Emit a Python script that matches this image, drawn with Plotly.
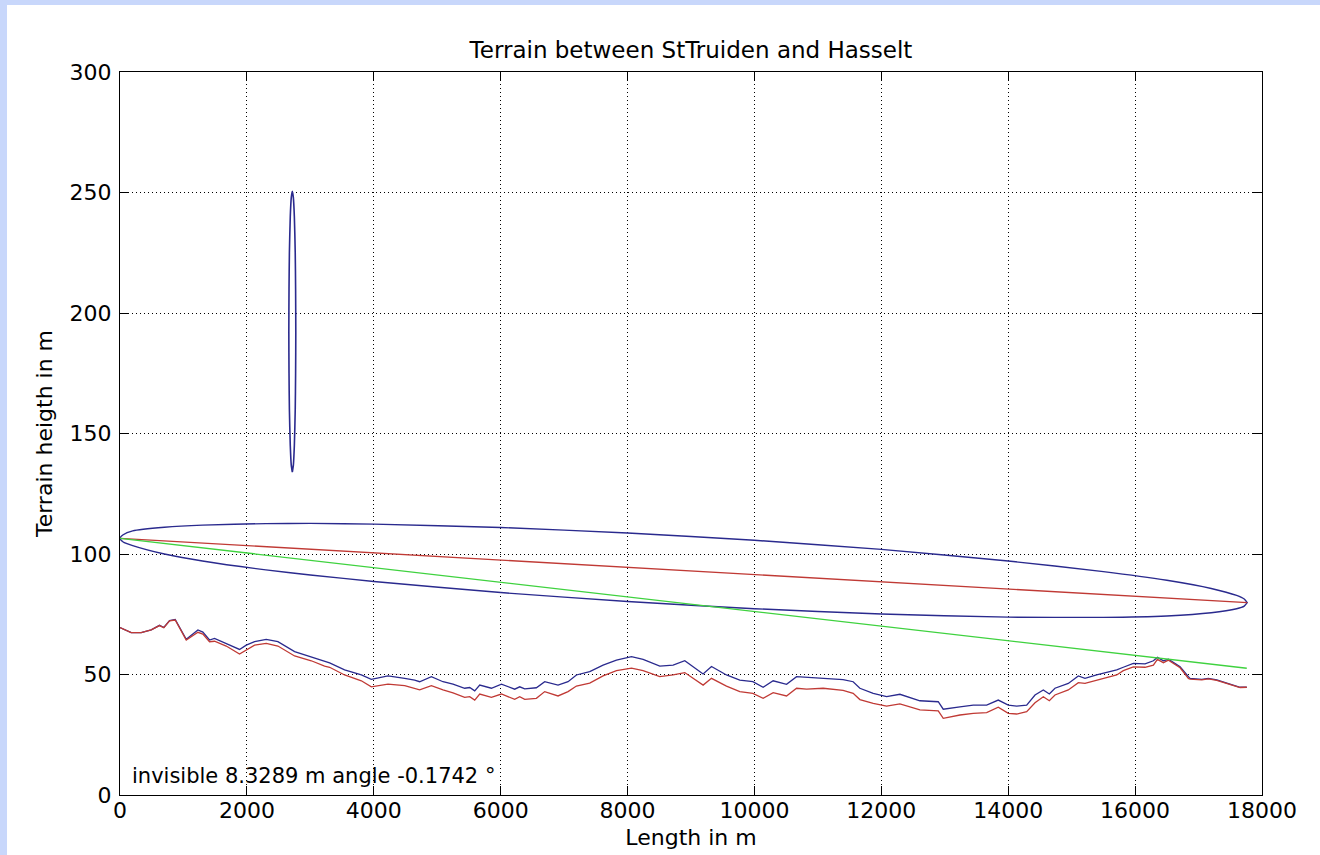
import plotly.graph_objects as go

# ---- data ----
terrain_x = [0, 176, 334, 492, 623, 691, 781, 870, 1044, 1228, 1306, 1411, 1490, 1674, 1884, 1990,
             2121, 2305, 2489, 2752, 3015, 3225, 3304, 3540, 3804, 3961, 4119, 4224, 4487, 4644,
             4723, 4908, 5091, 5249, 5433, 5512, 5591, 5670, 5854, 6012, 6221, 6300, 6379, 6563,
             6694, 6904, 7062, 7194, 7404, 7614, 7825, 8062, 8245, 8508, 8718, 8902, 9191, 9323,
             9559, 9769, 9975, 10137, 10295, 10506, 10664, 10822, 11083, 11397, 11556, 11662, 11872,
             12083, 12293, 12608, 12897, 12976, 13239, 13449, 13660, 13843, 14001, 14133, 14291,
             14422, 14553, 14648, 14737, 14947, 15105, 15210, 15394, 15604, 15710, 15814, 15972,
             16157, 16288, 16351, 16446, 16525, 16709, 16840, 16866, 17050, 17155, 17287, 17497,
             17655, 17760]
terrain_red = [69.5, 67.4, 67.4, 68.5, 70.3, 69.4, 72.3, 72.6, 64.3, 67.5, 66.8, 63.6, 63.8, 61.8, 58.5, 60.2,
               62.2, 62.9, 61.8, 57.7, 55.7, 53.5, 53.0, 49.8, 47.4, 44.9, 45.6, 46.0, 45.4, 44.0,
               43.6, 45.4, 43.6, 42.4, 40.5, 40.8, 39.4, 41.9, 40.5, 41.9, 39.7, 40.8, 39.7, 40.1,
               42.9, 41.1, 42.9, 45.2, 46.4, 49.4, 51.6, 52.6, 51.6, 49.1, 49.8, 50.8, 45.6, 48.4,
               45.2, 42.9, 42.2, 40.1, 42.5, 41.1, 44.3, 43.9, 44.3, 43.4, 42.2, 39.6, 38.0,
               36.9, 37.8, 35.3, 34.9, 31.8, 33.2, 33.9, 34.2, 36.4, 33.9, 33.6, 34.6,
               38.3, 40.8, 39.1, 41.5, 43.6, 46.6, 46.3, 47.7, 49.1, 49.8, 51.6, 53.2,
               53.0, 53.9, 56.3, 54.9, 55.9, 52.8, 48.4, 48.1, 47.8, 48.2, 47.6, 45.9,
               44.6, 44.7]
terrain_blue = [69.5, 67.4, 67.4, 68.5, 70.4, 69.5, 72.4, 72.8, 64.6, 68.5, 67.6, 64.3, 65.0, 62.9, 60.4, 62.2,
                63.6, 64.6, 63.6, 59.5, 57.4, 55.7, 54.8, 51.9, 49.8, 48.0, 48.8, 49.4, 48.4, 47.7,
                47.0, 49.1, 47.0, 46.0, 44.3, 44.6, 43.2, 45.6, 44.3, 46.0, 43.9, 44.9, 44.0, 44.5,
                47.0, 45.6, 47.0, 49.8, 51.2, 53.9, 56.0, 57.4, 56.3, 53.5, 53.9, 55.7, 50.2, 53.3,
                49.8, 47.7, 47.0, 44.7, 47.4, 45.9, 49.1, 48.8, 48.6, 47.9, 47.0, 44.3, 42.2,
                40.8, 41.8, 39.1, 38.7, 35.6, 36.6, 37.3, 37.3, 39.4, 37.3, 36.9, 37.3,
                41.5, 43.6, 41.9, 44.3, 46.3, 49.4, 48.4, 49.8, 51.2, 51.9, 53.0, 54.6,
                54.4, 55.7, 57.1, 55.7, 56.3, 53.2, 49.1, 48.4, 48.0, 48.4, 47.8, 46.0,
                44.7, 44.7]

# line of sight (red) and tilted line (green)
los_x = [0, 17767]
los_y = [106.5, 79.8]
green_x = [0, 17760]
green_y = [106.5, 52.6]

# large ellipse (Fresnel zone) read along its upper and lower edges
ell_x = [0, 50, 200, 700, 1300, 2300, 3000, 4000, 6000, 8000, 10000, 12000, 14000, 15500,
         16500, 17200, 17600, 17720, 17767]
ell_upper = [106.5, 108.0, 109.6, 111.1, 112.0, 112.6, 112.7, 112.4, 111.0, 108.7, 105.7, 101.9,
             97.1, 92.7, 89.1, 85.7, 82.8, 81.3, 79.8]
ell_lower = [106.5, 105.0, 103.5, 100.0, 97.1, 93.4, 91.3, 88.6, 84.0, 80.3, 77.3, 75.1,
             73.8, 73.7, 74.3, 75.6, 77.3, 78.4, 79.8]

# small vertical ellipse
small_y = [250.5, 248, 240, 225, 210, 192, 175, 160, 145, 137, 134]
small_right_x = [2716, 2732, 2748, 2762, 2768, 2771, 2768, 2762, 2748, 2733, 2716]
small_left_x = [2716, 2700, 2684, 2670, 2664, 2661, 2664, 2670, 2684, 2699, 2716]

x_ticks = [0, 2000, 4000, 6000, 8000, 10000, 12000, 14000, 16000, 18000]
y_ticks = [0, 50, 100, 150, 200, 250, 300]

title_text = "Terrain between StTruiden and Hasselt"
xlabel = "Length in m"
ylabel = "Terrain heigth in m"
note_text = "invisible 8.3289 m angle -0.1742 °"

BLUE = "#2a2a8e"
RED = "#c03a35"
GREEN = "#3fd23f"
FONT = "DejaVu Sans, Liberation Sans, sans-serif"

fig = go.Figure()
fig.add_trace(go.Scatter(x=terrain_x, y=terrain_blue, mode="lines",
                         line=dict(color=BLUE, width=1.3), hoverinfo="skip"))
fig.add_trace(go.Scatter(x=terrain_x, y=terrain_red, mode="lines",
                         line=dict(color=RED, width=1.3), hoverinfo="skip"))
fig.add_trace(go.Scatter(x=ell_x + ell_x[::-1], y=ell_upper + ell_lower[::-1], mode="lines",
                         line=dict(color=BLUE, width=1.4, shape="spline", smoothing=0.6),
                         hoverinfo="skip"))
fig.add_trace(go.Scatter(x=los_x, y=los_y, mode="lines",
                         line=dict(color=RED, width=1.3), hoverinfo="skip"))
fig.add_trace(go.Scatter(x=green_x, y=green_y, mode="lines",
                         line=dict(color=GREEN, width=1.3), hoverinfo="skip"))
fig.add_trace(go.Scatter(x=small_right_x + small_left_x[::-1], y=small_y + small_y[::-1], mode="lines",
                         line=dict(color=BLUE, width=1.6, shape="spline", smoothing=0.6),
                         hoverinfo="skip"))

L, R, T, B = 120, 58, 72, 60
W, H = 1320, 855
pw, ph = W - L - R, H - T - B

axis_common = dict(showline=True, linecolor="black", linewidth=1, mirror="ticks",
                   ticks="inside", ticklen=9, tickcolor="black", tickwidth=1,
                   showgrid=True, gridcolor="black", gridwidth=1, griddash="1px,3px",
                   zeroline=False, automargin=False,
                   tickfont=dict(family=FONT, size=22, color="black"))

fig.update_layout(
    width=W, height=H,
    margin=dict(l=L, r=R, t=T, b=B, pad=0, autoexpand=False),
    paper_bgcolor="white", plot_bgcolor="white",
    showlegend=False,
    title=dict(text=title_text, x=(L + pw / 2) / W, xanchor="center",
               y=1 - 50 / H, yanchor="middle",
               font=dict(family=FONT, size=23, color="black")),
    xaxis=dict(range=[0, 18000], tickvals=x_ticks, ticktext=[str(v) for v in x_ticks],
               title=dict(text=xlabel, font=dict(family=FONT, size=22, color="black"), standoff=7),
               ticklabelstandoff=-4,
               **axis_common),
    yaxis=dict(range=[0, 300], tickvals=y_ticks, ticktext=[str(v) for v in y_ticks],
               title=dict(text=ylabel, font=dict(family=FONT, size=22, color="black"), standoff=10),
               ticklabelstandoff=3,
               **axis_common),
    annotations=[dict(text=note_text, x=150, y=8, xref="x", yref="y", xanchor="left",
                      yanchor="middle", showarrow=False,
                      font=dict(family=FONT, size=21, color="black"))],
    shapes=[
        dict(type="rect", xref="paper", yref="paper", layer="below",
             x0=(0 - L) / pw, x1=(W - L) / pw, y0=(H - B - 0) / ph, y1=(H - B - 5) / ph,
             fillcolor="#c8d7fb", line=dict(width=0)),
        dict(type="rect", xref="paper", yref="paper", layer="below",
             x0=(0 - L) / pw, x1=(7 - L) / pw, y0=(H - B - 0) / ph, y1=(H - B - H) / ph,
             fillcolor="#c8d7fb", line=dict(width=0)),
    ],
)

fig.write_html("out.html", config={"displayModeBar": False},
               post_script="document.body.style.margin='0px';")
